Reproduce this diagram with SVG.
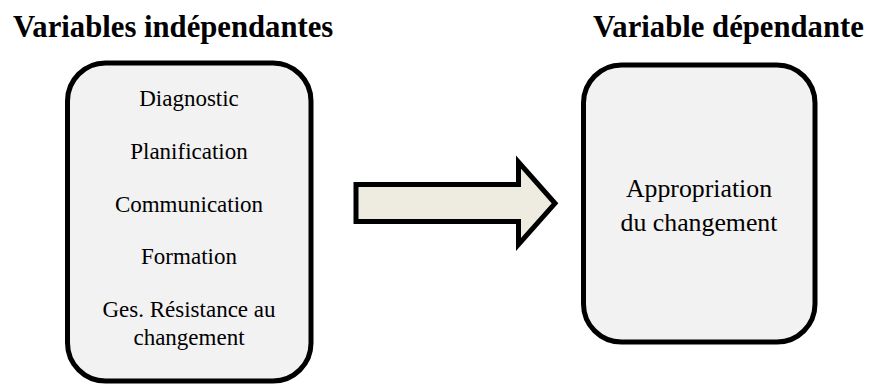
<svg xmlns="http://www.w3.org/2000/svg" width="869" height="385" viewBox="0 0 869 385">
<style>
text{font-family:'Liberation Serif','DejaVu Serif',serif;fill:#000}
.title{font-weight:bold;font-size:30.7px}
.box{fill:#f2f2f2;stroke:#000;stroke-width:5}
.t{font-size:23px;text-anchor:middle}
.t2{font-size:25.8px;text-anchor:middle}
.arrow{fill:#eeece1;stroke:#000;stroke-width:5;stroke-linejoin:miter}
</style>
<rect width="869" height="385" fill="#ffffff"/>
<text class="title" x="13" y="37">Variables indépendantes</text>
<text class="title" x="593" y="37">Variable dépendante</text>
<g id="independantes">
<rect class="box" x="67.5" y="63" width="243.5" height="318" rx="38" ry="38"/>
<text class="t" x="189" y="106">Diagnostic</text>
<text class="t" x="189" y="159">Planification</text>
<text class="t" x="189" y="211.5">Communication</text>
<text class="t" x="189" y="264">Formation</text>
<text class="t" x="189" y="317">Ges. Résistance au</text>
<text class="t" x="189" y="345">changement</text>
</g>
<g id="connecteurs">
<polygon class="arrow" points="356,184.5 518.5,184.5 518.5,162 555,203.3 518.5,244.5 518.5,221.5 356,221.5"/>
</g>
<g id="dependante">
<rect class="box" x="583.5" y="65" width="231.5" height="277" rx="38" ry="38"/>
<text class="t2" x="699" y="196.7">Appropriation</text>
<text class="t2" x="699" y="230.7">du changement</text>
</g>
</svg>
